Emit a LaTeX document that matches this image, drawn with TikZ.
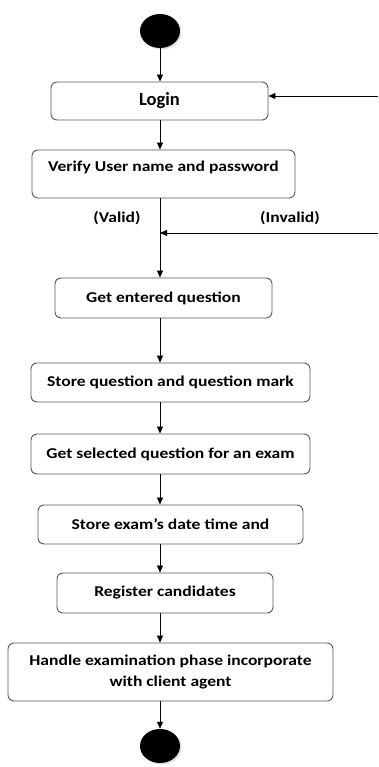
\documentclass[tikz,border=0pt]{standalone}
\usepackage{fontspec}
\setmainfont{Carlito}
\newfontfamily\actfont[FakeStretch=1.17]{Carlito}
\usetikzlibrary{shapes.geometric,arrows.meta,shadows}

\tikzset{
  act/.style={draw=black!65, line width=0.9pt, rounded corners=6pt, align=center, font=\actfont\bfseries\fontsize{15}{21}\selectfont},
  dot/.style={ellipse, fill=black, minimum width=40pt, minimum height=34pt, inner sep=0pt, drop shadow={shadow xshift=1.5pt, shadow yshift=-1.5pt, fill=black!25}},
  flow/.style={line width=0.8pt, -{Triangle[width=6pt,length=7pt]}},
  guard/.style={font=\actfont\bfseries\fontsize{15}{17}\selectfont}
}

\begin{document}
\begin{tikzpicture}[x=1pt,y=-1pt]
\useasboundingbox (0,0) rectangle (378,767);
\node[dot] (start) at (160,31) {};
\node[act, minimum width=217pt, minimum height=38pt, font=\bfseries\fontsize{18.5}{22}\selectfont] (login) at (159.5,101) {Login};
\node[act, minimum width=263pt, inner ysep=0pt, text height=22pt, text depth=26pt] (verify) at (163.5,174) {Verify User name and password};
\node[guard] (valid) at (117,218) {(Valid)};
\node[guard] (invalid) at (290,218) {(Invalid)};
\node[act, minimum width=217pt, minimum height=40pt] (getq) at (163.5,298) {Get entered question};
\node[act, minimum width=279pt, minimum height=39pt] (storeq) at (170.5,382.5) {Store question and question mark};
\node[act, minimum width=279pt, minimum height=40pt] (getsel) at (170.5,454) {Get selected question for an exam};
\node[act, minimum width=265pt, minimum height=39pt] (storex) at (170.5,524.5) {Store exam’s date time and};
\node[act, minimum width=216pt, minimum height=40pt] (reg) at (165,593) {Register candidates};
\node[act, minimum width=325pt, minimum height=58pt] (handle) at (170.5,672) {Handle examination phase incorporate\\with client agent};
\node[dot] (stop) at (160,746) {};

\coordinate (back) at (378,96);
\coordinate (retry) at (378,233);

\draw[flow] (start) -- (login.north -| start);
\draw[flow] (back) -- (back -| login.east);
\draw[flow] (login.south -| start) -- (verify.north -| start);
\draw[flow] (verify.south -| start) -- (getq.north -| start);
\draw[flow] (retry) -- (retry -| start);
\draw[flow] (getq.south -| start) -- (storeq.north -| start);
\draw[flow] (storeq.south -| start) -- (getsel.north -| start);
\draw[flow] (getsel.south -| start) -- (storex.north -| start);
\draw[flow] (storex.south -| start) -- (reg.north -| start);
\draw[flow] (reg.south -| start) -- (handle.north -| start);
\draw[flow] (handle.south -| start) -- (stop);
\end{tikzpicture}
\end{document}
